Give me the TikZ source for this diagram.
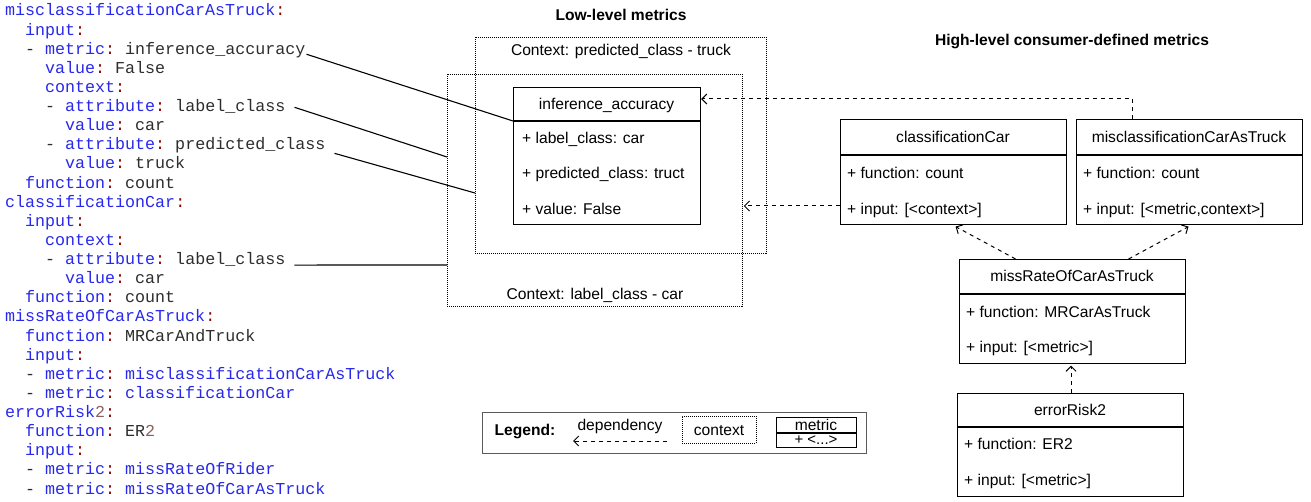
\documentclass[tikz,border=0pt]{standalone}
\usepackage{fontspec}
\setmainfont{Liberation Sans}
\newfontfamily\codefont{Liberation Mono}
\usetikzlibrary{arrows.meta}
\definecolor{keyblue}{RGB}{40,40,235}
\definecolor{colred}{RGB}{140,0,0}
\definecolor{valgray}{RGB}{45,45,45}
\definecolor{numcol}{RGB}{140,95,95}
\definecolor{leggray}{RGB}{90,90,90}
\newcommand\ky[1]{\textcolor{keyblue}{#1}}
\newcommand\cl{\textcolor{colred}{:}}
\newcommand\nm[1]{\textcolor{numcol}{#1}}
\tikzset{
  code/.style={anchor=base west, inner sep=0pt, font=\codefont\fontsize{16.67}{19}\selectfont\frenchspacing, text=valgray},
  sans/.style={inner sep=0pt, text height=11pt, text depth=0pt, font=\fontsize{15.6}{18}\selectfont},
  titlebf/.style={inner sep=0pt, text height=11pt, text depth=0pt, font=\bfseries\fontsize{15.6}{18}\selectfont},
  row/.style={sans, anchor=west},
  umlbox/.style={draw, line width=1.1pt, anchor=north west, inner sep=0pt},
  ctxbox/.style={draw, dash pattern=on 1pt off 1pt, line width=0.8pt, anchor=north west, inner sep=0pt},
  dep/.style={dash pattern=on 4pt off 4pt, line width=1pt, -{Straight Barb[length=5pt,width=10pt]}},
  link/.style={line width=1.1pt}
}
\begin{document}
\begin{tikzpicture}[x=1pt,y=-1pt]
\useasboundingbox (0,0) rectangle (1311,502);
% ---------- code listing ----------
\def\ls{19.12}
\node[code] (c0)  at (5, 16+0*\ls)  {\ky{misclassificationCarAsTruck}\cl};
\node[code] (c1)  at (25,16+1*\ls)  {\ky{input}\cl};
\node[code] (c2)  at (25,16+2*\ls)  {- \ky{metric}\cl{} inference\_accuracy};
\node[code] (c3)  at (45,16+3*\ls)  {\ky{value}\cl{} False};
\node[code] (c4)  at (45,16+4*\ls)  {\ky{context}\cl};
\node[code] (c5)  at (45,16+5*\ls)  {- \ky{attribute}\cl{} label\_class};
\node[code] (c6)  at (65,16+6*\ls)  {\ky{value}\cl{} car};
\node[code] (c7)  at (45,16+7*\ls)  {- \ky{attribute}\cl{} predicted\_class};
\node[code] (c8)  at (65,16+8*\ls)  {\ky{value}\cl{} truck};
\node[code] (c9)  at (25,16+9*\ls)  {\ky{function}\cl{} count};
\node[code] (c10) at (5, 16+10*\ls) {\ky{classificationCar}\cl};
\node[code] (c11) at (25,16+11*\ls) {\ky{input}\cl};
\node[code] (c12) at (45,16+12*\ls) {\ky{context}\cl};
\node[code] (c13) at (45,16+13*\ls) {- \ky{attribute}\cl{} label\_class};
\node[code] (c14) at (65,16+14*\ls) {\ky{value}\cl{} car};
\node[code] (c15) at (25,16+15*\ls) {\ky{function}\cl{} count};
\node[code] (c16) at (5, 16+16*\ls) {\ky{missRateOfCarAsTruck}\cl};
\node[code] (c17) at (25,16+17*\ls) {\ky{function}\cl{} MRCarAndTruck};
\node[code] (c18) at (25,16+18*\ls) {\ky{input}\cl};
\node[code] (c19) at (25,16+19*\ls) {- \ky{metric}\cl{} \ky{misclassificationCarAsTruck}};
\node[code] (c20) at (25,16+20*\ls) {- \ky{metric}\cl{} \ky{classificationCar}};
\node[code] (c21) at (5, 16+21*\ls) {\ky{errorRisk}\nm{2}\cl};
\node[code] (c22) at (25,16+22*\ls) {\ky{function}\cl{} ER\nm{2}};
\node[code] (c23) at (25,16+23*\ls) {\ky{input}\cl};
\node[code] (c24) at (25,16+24*\ls) {- \ky{metric}\cl{} \ky{missRateOfRider}};
\node[code] (c25) at (25,16+25*\ls) {- \ky{metric}\cl{} \ky{missRateOfCarAsTruck}};
% ---------- titles ----------
\node[titlebf] (tlow) at (621,15) {Low-level metrics};
\node[titlebf] (thigh) at (1072,40) {High-level consumer-defined metrics};
% ---------- context boxes ----------
\node[ctxbox, minimum width=291pt, minimum height=216pt] (ctxtruck) at (475,37) {};
\node[ctxbox, minimum width=295pt, minimum height=232pt] (ctxcar) at (447,74) {};
\node[sans] (ctxtrucklbl) at (621,50) {Context: predicted\_class - truck};
\node[sans] (ctxcarlbl) at (595,294) {Context: label\_class - car};
% ---------- inference_accuracy ----------
\node[umlbox, fill=white, minimum width=187pt, minimum height=137pt] (ia) at (513,87) {};
\draw[line width=1.1pt] (ia.west |- 0,121) -- (ia.east |- 0,121);
\node[sans] (iah) at (606.5,104) {inference\_accuracy};
\node[row] (ia1) at (522,138) {+ label\_class: car};
\node[row] (ia2) at (522,173) {+ predicted\_class: truct};
\node[row] (ia3) at (522,209) {+ value: False};
% ---------- classificationCar ----------
\node[umlbox, minimum width=226pt, minimum height=105pt] (cc) at (840,119) {};
\draw[line width=1.1pt] (cc.west |- 0,155) -- (cc.east |- 0,155);
\node[sans] (cch) at (953,137) {classificationCar};
\node[row] (cc1) at (847,173) {+ function: count};
\node[row] (cc2) at (847,209) {+ input: [<context>]};
% ---------- misclassificationCarAsTruck ----------
\node[umlbox, minimum width=226pt, minimum height=105pt] (mcat) at (1076,119) {};
\draw[line width=1.1pt] (mcat.west |- 0,155) -- (mcat.east |- 0,155);
\node[sans] (mcath) at (1189,137) {misclassificationCarAsTruck};
\node[row] (mcat1) at (1083,173) {+ function: count};
\node[row] (mcat2) at (1083,209) {+ input: [<metric,context>]};
% ---------- missRateOfCarAsTruck ----------
\node[umlbox, minimum width=226pt, minimum height=104pt] (mr) at (959,259) {};
\draw[line width=1.1pt] (mr.west |- 0,294) -- (mr.east |- 0,294);
\node[sans] (mrh) at (1072,276.5) {missRateOfCarAsTruck};
\node[row] (mr1) at (966,312) {+ function: MRCarAsTruck};
\node[row] (mr2) at (966,347) {+ input: [<metric>]};
% ---------- errorRisk2 ----------
\node[umlbox, minimum width=226pt, minimum height=103pt] (er) at (957,393) {};
\draw[line width=1.1pt] (er.west |- 0,427) -- (er.east |- 0,427);
\node[sans] (erh) at (1070,410) {errorRisk2};
\node[row] (er1) at (964,444) {+ function: ER2};
\node[row] (er2) at (964,480) {+ input: [<metric>]};
% ---------- dependencies ----------
\draw[dep] ([xshift=-57pt]mcat.north) |- (ia.east |- 0,99);
\draw[dep] (cc.west |- 0,206) -- ([xshift=1pt]ctxcar.east |- 0,206);
\draw[dep] ([xshift=-57pt]mr.north) -- ([xshift=2pt,yshift=-1.5pt]cc.south);
\draw[dep] ([xshift=56pt]mr.north) -- ([xshift=-1pt,yshift=-1.5pt]mcat.south);
\draw[dep] (er.north -| 1071,0) -- ([yshift=-1.5pt]mr.south -| 1071,0);
% ---------- code links ----------
\draw[link] ([xshift=1pt]c2.base east) -- (ia.west |- 0,121);
\draw[link] ([shift={(9,-4.3)}]c5.base east) -- (ctxcar.west |- 0,157);
\draw[link] ([shift={(9,3.5)}]c7.base east) -- (ctxtruck.west |- 0,193);
\draw[link] ([shift={(9,0.5)}]c13.base east) -- (ctxcar.west |- 0,265);
% ---------- legend ----------
\node[draw=leggray, line width=1.1pt, anchor=north west, inner sep=0pt, minimum width=384pt, minimum height=41pt] (leg) at (482,412) {};
\node[titlebf] (legt) at (525,430) {Legend:};
\node[sans] (legdep) at (620,425) {dependency};
\coordinate (legA) at (667,441);
\coordinate (legB) at (573,441);
\draw[dep] (legA) -- (legB);
\node[ctxbox, minimum width=74pt, minimum height=27pt] (legctx) at (682,416) {};
\node[sans] (legctxt) at (719,430) {context};
\node[draw, line width=1.1pt, anchor=north west, inner sep=0pt, minimum width=80pt, minimum height=30pt] (legm) at (776,417) {};
\draw[line width=1.1pt] (legm.west |- 0,433) -- (legm.east |- 0,433);
\node[sans] (legmt) at (816,425) {metric};
\node[inner sep=0pt, font=\fontsize{15}{17}\selectfont] (legmr) at (816,440) {+ <...>};
\end{tikzpicture}
\end{document}
